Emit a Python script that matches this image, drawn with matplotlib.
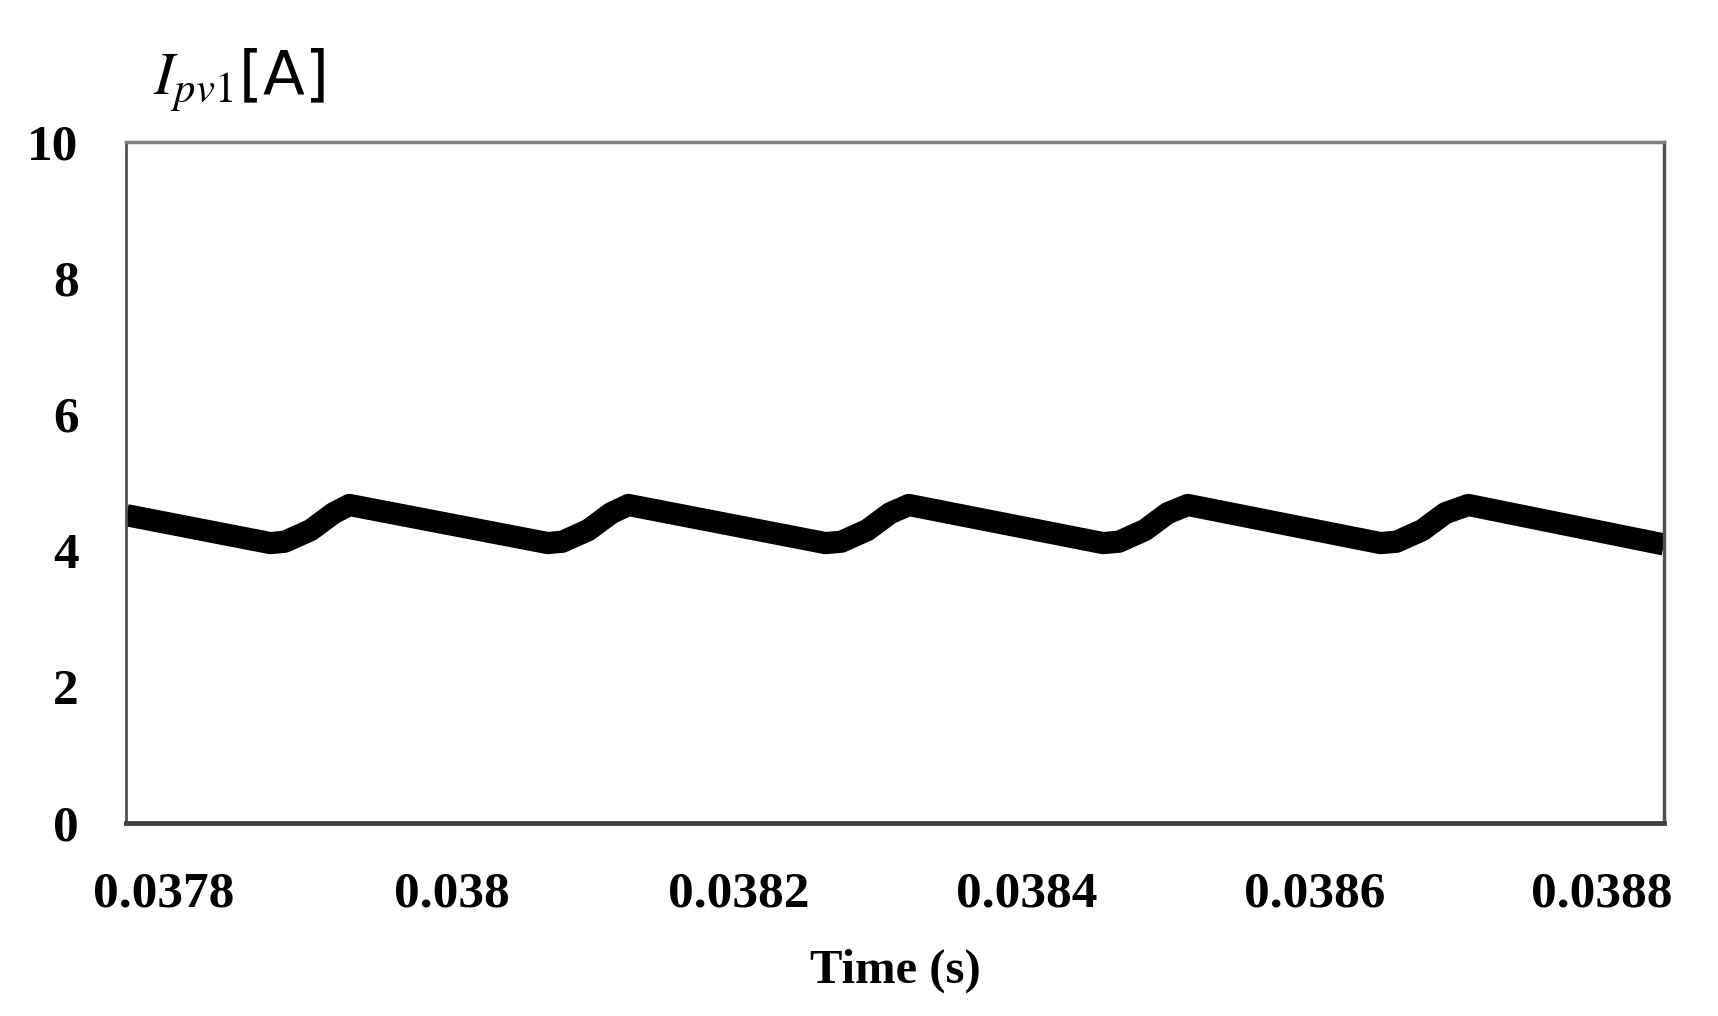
import matplotlib.pyplot as plt

# PV1 current waveform
time_s = [0.037774, 0.037874, 0.037884, 0.037902, 0.037918, 0.037929,
          0.038067, 0.038077, 0.038095, 0.038111, 0.038123,
          0.038260, 0.038271, 0.038289, 0.038305, 0.038318,
          0.038453, 0.038464, 0.038482, 0.038498, 0.038512,
          0.038646, 0.038657, 0.038675, 0.038691, 0.038707,
          0.038843]
i_pv1 = [4.52, 4.11, 4.13, 4.30, 4.55, 4.67,
         4.11, 4.13, 4.30, 4.55, 4.67,
         4.11, 4.13, 4.30, 4.55, 4.67,
         4.11, 4.13, 4.30, 4.55, 4.67,
         4.11, 4.13, 4.30, 4.55, 4.67,
         4.09]

x_ticks = [0.0378, 0.0380, 0.0382, 0.0384, 0.0386, 0.0388]
x_labels = ['0.0378', '0.038', '0.0382', '0.0384', '0.0386', '0.0388']
y_ticks = [0, 2, 4, 6, 8, 10]

plt.rcParams['mathtext.fontset'] = 'stix'

fig = plt.figure(figsize=(17.18, 10.16), dpi=100)
ax = fig.add_axes([0.0733, 0.19, 0.8953, 0.6702])

ax.plot(time_s, i_pv1, color='black', linewidth=16, solid_joinstyle='round',
        solid_capstyle='butt')

ax.set_xlim(0.0377736, 0.0388431)
ax.set_ylim(0, 10)
ax.set_xticks(x_ticks)
ax.set_xticklabels(x_labels)
ax.set_yticks(y_ticks)

for lab in ax.get_xticklabels() + ax.get_yticklabels():
    lab.set_fontfamily('Liberation Serif')
    lab.set_fontweight('bold')
    lab.set_fontsize(37)
ax.tick_params(axis='y', length=0, pad=34)
ax.tick_params(axis='x', length=0, pad=35)

ax.set_xlabel('Time (s)', family='Liberation Serif', weight='bold',
              fontsize=35, labelpad=22)

# spines: grey frame, darker bottom
ax.spines['top'].set_color('#808080')
ax.spines['top'].set_linewidth(2.5)
ax.spines['left'].set_color('#505050')
ax.spines['left'].set_linewidth(2)
ax.spines['right'].set_color('#505050')
ax.spines['right'].set_linewidth(2.5)
ax.spines['bottom'].set_color('#404040')
ax.spines['bottom'].set_linewidth(3.5)

fig.text(153 / 1718, 1 - 94 / 1016, r'$I_{pv1}$[A]', family='DejaVu Sans',
         fontsize=44, va='baseline', ha='left')

fig.savefig('out.png', dpi=100)
